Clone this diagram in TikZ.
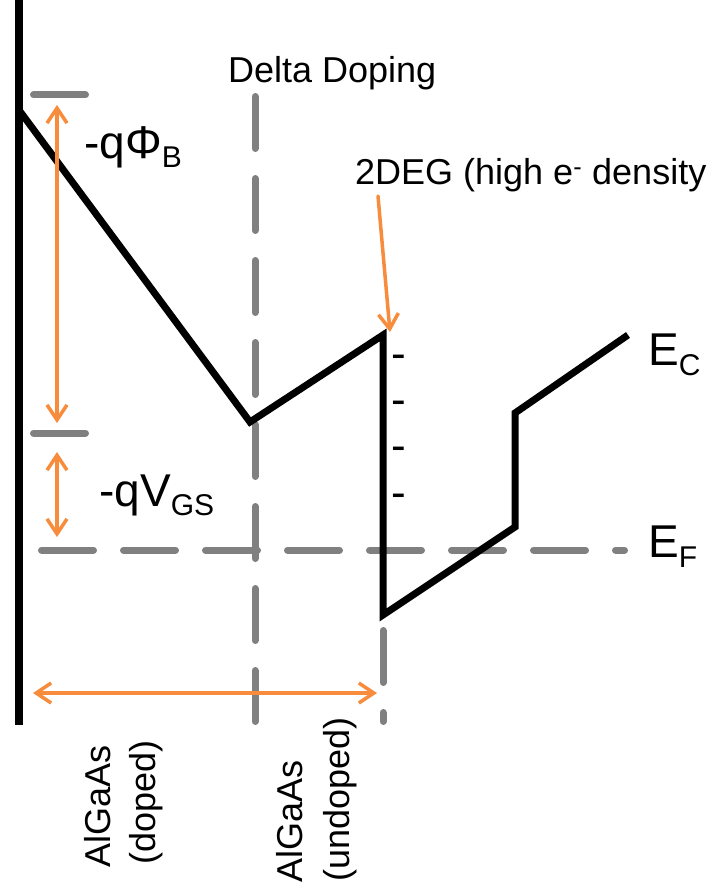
\documentclass[tikz,border=0pt]{standalone}
\usepackage{fontspec}
\setmainfont{Liberation Sans}
\usetikzlibrary{arrows.meta}
\definecolor{orng}{RGB}{247,140,60}
\definecolor{gry}{RGB}{128,128,128}
\begin{document}
\begin{tikzpicture}[x=1pt,y=-1pt,
  band/.style={line width=7pt, black, line join=miter},
  wall/.style={line width=7.5pt, black},
  gdash/.style={line width=7pt, gry, line cap=round, dash pattern=on 52pt off 30pt},
  gbar/.style={line width=7pt, gry, line cap=round},
  obar/.style={line width=3.5pt, orng, line cap=round},
  dbl/.style={obar, arrows={Straight Barb[length=15pt,width=20pt]-Straight Barb[length=15pt,width=20pt]}},
  sgl/.style={obar, arrows={-Straight Barb[length=15pt,width=20pt]}},
  lbl/.style={inner sep=0pt, font=\fontsize{36}{40}\selectfont},
  big/.style={inner sep=0pt, font=\fontsize{46}{50}\selectfont},
  mk/.style={inner sep=0pt, anchor=base, font=\fontsize{44}{44}\selectfont},
]
\useasboundingbox (0,0) rectangle (713,885);
\fill[white] (0,0) rectangle (713,885);

% coordinates
\coordinate (w0) at (19,0);
\coordinate (w1) at (19,725);
\coordinate (p1) at (19,110);
\coordinate (p2) at (250,422);
\coordinate (p3) at (383,335);
\coordinate (p4) at (383,615);
\coordinate (p5) at (515,527);
\coordinate (p6) at (515,413);
\coordinate (p7) at (628,335);

\coordinate (tb0) at (33.5,95);
\coordinate (tb1) at (85.5,95);
\coordinate (bb0) at (33.5,433);
\coordinate (bb1) at (85.5,433);
\coordinate (ef0) at (41.5,550);
\coordinate (ef1) at (624.5,550);
\coordinate (dd0) at (255,96.5);
\coordinate (dd1) at (255,721.5);
\coordinate (hd0) at (383,630.5);
\coordinate (hd1) at (383,721.5);

\coordinate (a1) at (57,105);
\coordinate (a2) at (57,423);
\coordinate (a3) at (57,452);
\coordinate (a4) at (57,537);
\coordinate (a5) at (33,693);
\coordinate (a6) at (377,693);
\coordinate (a7) at (378,196);
\coordinate (a8) at (390,332);

% gray guides
\draw[gbar] (tb0) -- (tb1);
\draw[gbar] (bb0) -- (bb1);
\draw[gdash] (ef0) -- (ef1);
\draw[gdash] (dd0) -- (dd1);
\draw[gdash] (hd0) -- (hd1);

% band profile
\draw[wall] (w0) -- (w1);
\draw[band] (p1) -- (p2) -- (p3) -- (p4) -- (p5) -- (p6) -- (p7);

% orange arrows
\draw[dbl] (a1) -- (a2);
\draw[dbl] (a3) -- (a4);
\draw[dbl] (a5) -- (a6);
\draw[sgl] (a7) -- (a8);

% labels
\node[lbl, anchor=base west] (dd) at (228,83) {Delta Doping};
\node[big, anchor=base west] (phib) at (84,159) {-qΦ\raisebox{-9pt}{\fontsize{30}{30}\selectfont B}};
\node[big, anchor=base west] (vgs) at (99,506) {-qV\raisebox{-9pt}{\fontsize{30}{30}\selectfont GS}};
\node[lbl, anchor=base west] (deg) at (355,185) {2DEG (high e\textsuperscript{-} density};
\node[big, anchor=base west] (ec) at (648,365) {E\raisebox{-10pt}{\fontsize{30}{30}\selectfont C}};
\node[big, anchor=base west] (ef) at (648,557) {E\raisebox{-10pt}{\fontsize{30}{30}\selectfont F}};

% electrons
\node[mk] (m1) at (399,368) {-};
\node[mk] (m2) at (399,414) {-};
\node[mk] (m3) at (399,460) {-};
\node[mk] (m4) at (399,507) {-};

% layer labels
\node[lbl, rotate=90, anchor=base west] (l1a) at (110,868) {AlGaAs};
\node[lbl, rotate=90, anchor=base west] (l1b) at (155,865) {(doped)};
\node[lbl, rotate=90, anchor=base west] (l2a) at (302,883) {AlGaAs};
\node[lbl, rotate=90, anchor=base west] (l2b) at (349,882) {(undoped)};
\end{tikzpicture}
\end{document}
